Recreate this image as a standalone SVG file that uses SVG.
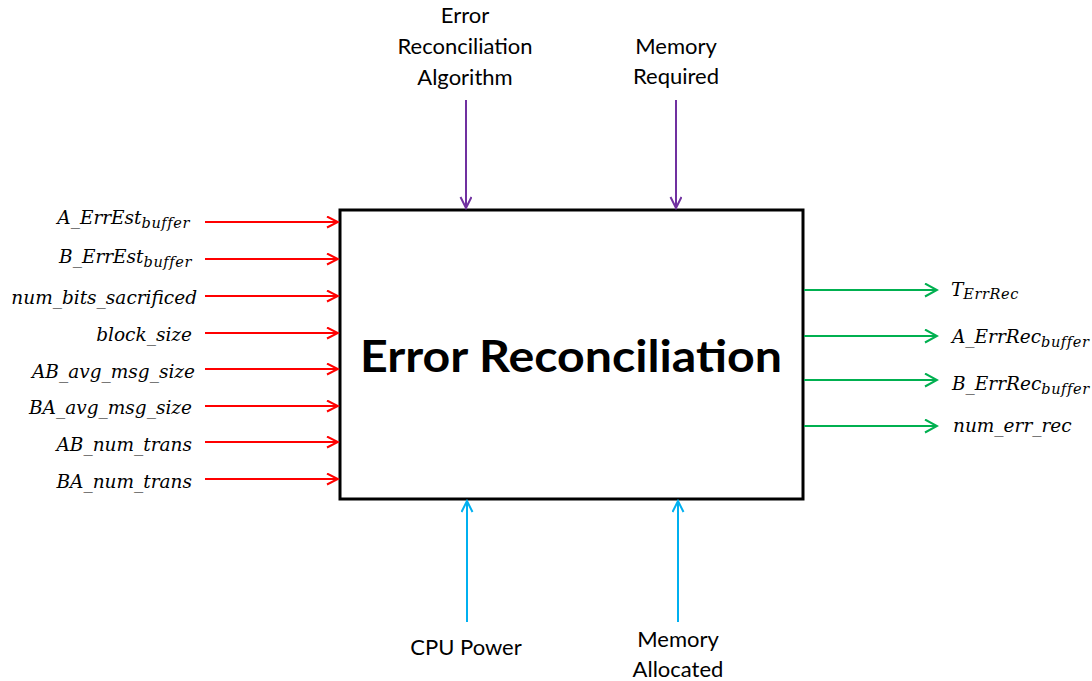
<svg xmlns="http://www.w3.org/2000/svg" width="1092" height="681" viewBox="0 0 1092 681">
  <defs>
    <style>
      .lbl { font-family: Lato, "Open Sans", sans-serif; font-size: 22px; fill: #000; text-anchor: middle; }
      .var { font-family: "DejaVu Serif", "Liberation Serif", serif; font-style: italic; font-size: 18.5px; fill: #000; }
      .sub { font-size: 14.5px; letter-spacing: 0.6px; }
      .in  { stroke: #ff0000; stroke-width: 2; fill: none; marker-end: url(#ah-red); }
      .out { stroke: #00b050; stroke-width: 2; fill: none; marker-end: url(#ah-green); }
      .ctl { stroke: #7030a0; stroke-width: 2; fill: none; marker-end: url(#ah-purple); }
      .mec { stroke: #00b0f0; stroke-width: 2; fill: none; marker-end: url(#ah-blue); }
    </style>
    <marker id="ah-red" markerUnits="userSpaceOnUse" markerWidth="14" markerHeight="14" refX="12" refY="6" orient="auto">
      <path d="M1,0.5 L12,6 L1,11.5" fill="none" stroke="#ff0000" stroke-width="2"/>
    </marker>
    <marker id="ah-green" markerUnits="userSpaceOnUse" markerWidth="15" markerHeight="15" refX="13" refY="7" orient="auto">
      <path d="M1,0.5 L13,7 L1,13.5" fill="none" stroke="#00b050" stroke-width="2"/>
    </marker>
    <marker id="ah-purple" markerUnits="userSpaceOnUse" markerWidth="14" markerHeight="14" refX="12" refY="6" orient="auto">
      <path d="M1,0.5 L12,6 L1,11.5" fill="none" stroke="#7030a0" stroke-width="2"/>
    </marker>
    <marker id="ah-blue" markerUnits="userSpaceOnUse" markerWidth="14" markerHeight="14" refX="12" refY="6" orient="auto">
      <path d="M1,0.5 L12,6 L1,11.5" fill="none" stroke="#00b0f0" stroke-width="2"/>
    </marker>
  </defs>

  <rect width="1092" height="681" fill="#fff"/>

  <!-- central process -->
  <g id="process">
    <rect x="340" y="210" width="463" height="289" fill="#fff" stroke="#000" stroke-width="3"/>
    <text x="571" y="372" font-family="Lato, 'Open Sans', sans-serif" font-weight="bold" font-size="44" text-anchor="middle" textLength="422" lengthAdjust="spacingAndGlyphs">Error Reconciliation</text>
  </g>

  <!-- connectors -->
  <g id="connectors">
    <line class="in" x1="205" y1="222" x2="338" y2="222"/>
    <line class="in" x1="205" y1="259" x2="338" y2="259"/>
    <line class="in" x1="205" y1="296" x2="338" y2="296"/>
    <line class="in" x1="205" y1="333" x2="338" y2="333"/>
    <line class="in" x1="205" y1="369" x2="338" y2="369"/>
    <line class="in" x1="205" y1="406" x2="338" y2="406"/>
    <line class="in" x1="205" y1="442" x2="338" y2="442"/>
    <line class="in" x1="205" y1="479" x2="338" y2="479"/>

    <line class="out" x1="804" y1="290" x2="937" y2="290"/>
    <line class="out" x1="804" y1="336" x2="937" y2="336"/>
    <line class="out" x1="804" y1="380" x2="937" y2="380"/>
    <line class="out" x1="804" y1="426" x2="937" y2="426"/>

    <line class="ctl" x1="466" y1="100" x2="466" y2="208"/>
    <line class="ctl" x1="676" y1="100" x2="676" y2="208"/>

    <line class="mec" x1="467" y1="622" x2="467" y2="501"/>
    <line class="mec" x1="678" y1="622" x2="678" y2="501"/>
  </g>

  <!-- inputs -->
  <g id="in-a-errest"><text class="var" x="190" y="224" text-anchor="end">A_ErrEst<tspan class="sub" dy="4">buffer</tspan></text></g>
  <g id="in-b-errest"><text class="var" x="192" y="263" text-anchor="end">B_ErrEst<tspan class="sub" dy="4">buffer</tspan></text></g>
  <g id="in-bits-sacrificed"><text class="var" x="197" y="304" text-anchor="end">num_bits_sacrificed</text></g>
  <g id="in-block-size"><text class="var" x="192" y="341" text-anchor="end">block_size</text></g>
  <g id="in-ab-avg"><text class="var" x="195" y="378" text-anchor="end">AB_avg_msg_size</text></g>
  <g id="in-ba-avg"><text class="var" x="192" y="414" text-anchor="end">BA_avg_msg_size</text></g>
  <g id="in-ab-trans"><text class="var" x="192" y="451" text-anchor="end">AB_num_trans</text></g>
  <g id="in-ba-trans"><text class="var" x="192" y="488" text-anchor="end">BA_num_trans</text></g>

  <!-- outputs -->
  <g id="out-t-errrec"><text class="var" x="951" y="296">T<tspan class="sub" dy="3">ErrRec</tspan></text></g>
  <g id="out-a-errrec"><text class="var" x="952" y="343">A_ErrRec<tspan class="sub" dy="4">buffer</tspan></text></g>
  <g id="out-b-errrec"><text class="var" x="952" y="390">B_ErrRec<tspan class="sub" dy="4">buffer</tspan></text></g>
  <g id="out-num-err-rec"><text class="var" x="953" y="432">num_err_rec</text></g>

  <!-- controls -->
  <g id="ctl-algorithm">
    <text class="lbl" x="465" y="23">Error</text>
    <text class="lbl" x="465" y="54">Reconciliation</text>
    <text class="lbl" x="465" y="85">Algorithm</text>
  </g>
  <g id="ctl-memory-required">
    <text class="lbl" x="676" y="54">Memory</text>
    <text class="lbl" x="676" y="84">Required</text>
  </g>

  <!-- mechanisms -->
  <g id="mec-cpu">
    <text class="lbl" x="466" y="655">CPU Power</text>
  </g>
  <g id="mec-memory-allocated">
    <text class="lbl" x="678" y="647">Memory</text>
    <text class="lbl" x="678" y="677">Allocated</text>
  </g>
</svg>
